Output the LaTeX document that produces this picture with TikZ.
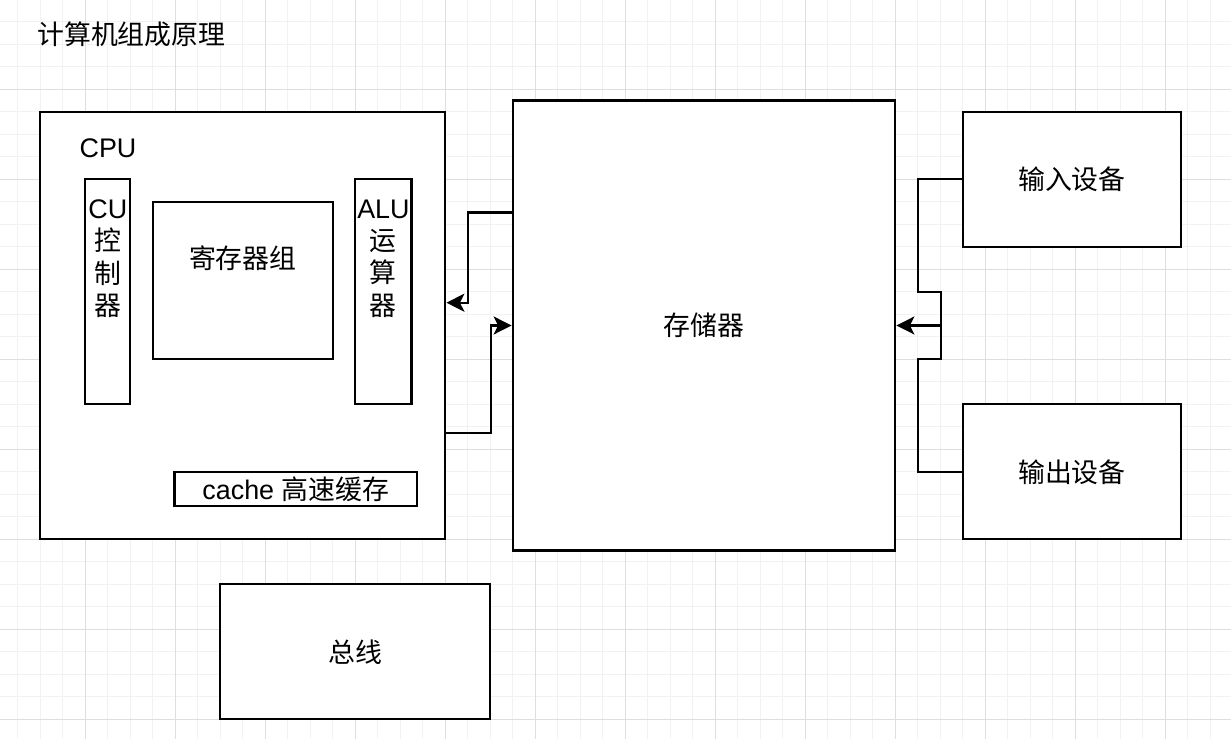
\documentclass[tikz,border=0pt]{standalone}
\usepackage{fontspec}
\setmainfont{Liberation Sans}
\newfontfamily\cjk{Noto Sans CJK SC}
\usetikzlibrary{calc, arrows.meta, positioning}

\begin{document}
\begin{tikzpicture}[
    x=0.02cm, y=-0.02cm,
    box/.style={draw=black, fill=white, line width=1.28pt, inner sep=0pt},
    wh/.style 2 args={minimum width=#1*0.02cm, minimum height=#2*0.02cm},
    lbl/.style={inner sep=0pt, align=center, font=\fontsize{15.3pt}{18.4pt}\selectfont},
    wire/.style={line width=1.28pt},
    link/.style={wire, -{Stealth[length=0.36cm, width=0.36cm, inset=0.09cm]}},
    minor/.style={draw=black!5, line width=0.57pt},
    major/.style={draw=black!13, line width=0.57pt},
  ]
    \useasboundingbox (0,0) rectangle (1231,739);
    \fill[white] (0,0) rectangle (1231,739);
    % grid
    \foreach \x in {17.8,40.3,...,1231} \draw[minor] (\x,0) -- (\x,739);
    \foreach \y in {21.8,44.3,...,739} \draw[minor] (0,\y) -- (1231,\y);
    \foreach \x in {85.3,175.3,...,1231} \draw[major] (\x,0) -- (\x,739);
    \foreach \y in {89.3,179.3,...,739} \draw[major] (0,\y) -- (1231,\y);

    \node[lbl, anchor=west] (title) at (37,34) {\cjk 计算机组成原理};

    % CPU
    \node[box, wh={405}{427.5}] (cpu) at (242.8,325.5) {};
    \node[lbl] (cpulbl) at (108,148) {CPU};
    \node[box, wh={45}{225}] (cu) at (107.8,291.8) {};
    \node[lbl] (cutxt) at (107.8,258.6) {CU\\{\cjk 控}\\{\cjk 制}\\{\cjk 器}};
    \node[box, wh={180}{157.5}] (reg) at (242.8,280.5) {};
    \node[lbl] (regtxt) at (242.8,258) {\cjk 寄存器组};
    \node[box, wh={56.3}{225}] (alu) at (383.4,291.8) {};
    \node[lbl] (alutxt) at (383.4,258.6) {ALU\\{\cjk 运}\\{\cjk 算}\\{\cjk 器}};
    \node[box, wh={242.5}{34.3}, lbl] (cache) at (295.8,488.9) {cache {\cjk 高速缓存}};

    % memory, devices, bus
    \node[box, wh={382.5}{450}, lbl] (mem) at (704,325.5) {\cjk 存储器};
    \node[box, wh={218}{135}, lbl] (in) at (1071.9,179.3) {\cjk 输入设备};
    \node[box, wh={218}{135}, lbl] (out) at (1071.9,471.8) {\cjk 输出设备};
    \node[box, wh={270}{135}, lbl] (bus) at (355.3,651.8) {\cjk 总线};

    % connectors
    \coordinate (j1) at (467.7,302.7);
    \coordinate (j2) at (490.7,325.5);
    \coordinate (hub) at (940.7,325.5);
    \draw[link] ($(mem.north west)!0.25!(mem.south west)$) -| (j1) -- (j1 -| cpu.east);
    \draw[link] ($(cpu.north east)!0.75!(cpu.south east)$) -| (j2) -- (mem.west);
    \draw[wire] (in.west) -| (917.7,291.7) -| (hub);
    \draw[wire] (out.west) -| (917.7,359.3) -| (hub);
    \draw[link] (hub) -- (mem.east);
  \end{tikzpicture}
\end{document}
